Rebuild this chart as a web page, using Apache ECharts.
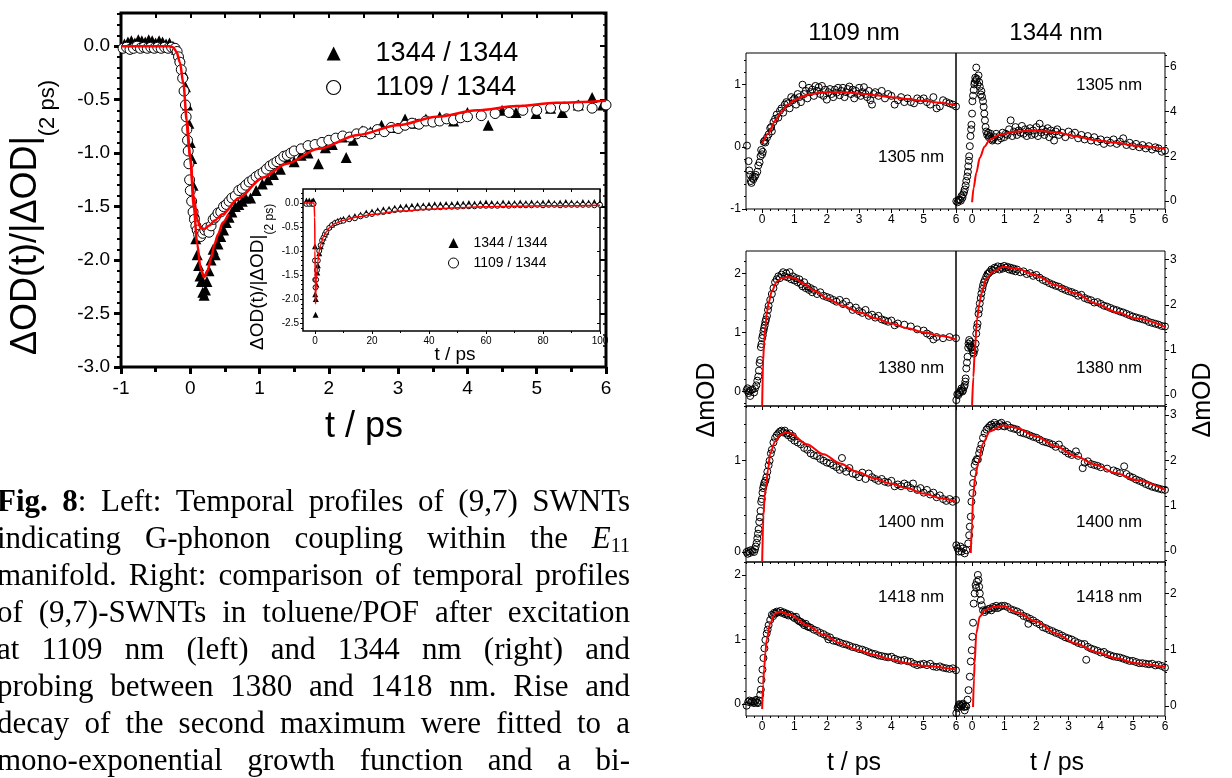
<!DOCTYPE html>
<html><head><meta charset="utf-8">
<script src="https://cdn.jsdelivr.net/npm/echarts@6/dist/echarts.min.js"></script>
<style>html,body{margin:0;padding:0;background:#fff}#c{width:1232px;height:778px}</style>
</head><body><div id="c"></div>
<script>
// ---------------- DATA ----------------
const mainXTicks = [-1,0,1,2,3,4,5,6];
const mainYTicks = [-3,-2.5,-2,-1.5,-1,-0.5,0];
const insetXTicks = [0,20,40,60,80,100];
const insetYTicks = [-2.5,-2,-1.5,-1,-0.5,0];
const panelXTicks = [0,1,2,3,4,5,6];
const legendNames = ['1344 / 1344','1109 / 1344'];
const pumpTitles = ['1109 nm','1344 nm'];
const probeLabels = ['1305 nm','1380 nm','1400 nm','1418 nm'];

const mainTriangles = [[-0.95,0.02],[-0.9,0.04],[-0.85,0.05],[-0.8,0.03],[-0.75,0.06],[-0.7,0.05],[-0.65,0.04],[-0.6,0.06],[-0.55,0.05],[-0.5,0.03],[-0.45,0.05],[-0.4,0.04],[-0.35,0.02],[-0.3,0.03],[-0.25,0.0],[-0.2,-0.03],[-0.15,-0.1],[-0.1,-0.25],[-0.07,-0.38],[-0.04,-0.55],[-0.02,-0.72],[0.0,-0.9],[0.02,-1.05],[0.04,-1.3],[0.06,-1.55],[0.08,-1.8],[0.1,-1.95],[0.12,-2.05],[0.14,-2.15],[0.16,-2.2],[0.18,-2.3],[0.2,-2.33],[0.22,-2.28],[0.24,-2.2],[0.27,-2.1],[0.3,-2.0],[0.33,-1.9],[0.36,-1.95],[0.4,-1.85],[0.44,-1.78],[0.48,-1.72],[0.52,-1.65],[0.56,-1.6],[0.6,-1.55],[0.65,-1.5],[0.7,-1.48],[0.75,-1.45],[0.8,-1.42],[0.87,-1.42],[0.95,-1.35],[1.04,-1.29],[1.12,-1.25],[1.2,-1.2],[1.3,-1.15],[1.39,-1.04],[1.5,-1.08],[1.6,-1.02],[1.7,-1.0],[1.85,-1.1],[1.95,-0.95],[2.05,-0.92],[2.19,-0.85],[2.25,-1.04],[2.35,-0.88],[2.48,-0.79],[2.6,-0.8],[2.76,-0.74],[2.9,-0.76],[3.1,-0.68],[3.25,-0.72],[3.4,-0.68],[3.6,-0.66],[3.8,-0.7],[4.0,-0.62],[4.3,-0.74],[4.5,-0.6],[4.7,-0.62],[4.99,-0.63],[5.2,-0.58],[5.37,-0.62],[5.6,-0.55],[5.8,-0.48],[5.95,-0.55]];
const mainCircles = [[-0.97,-0.02],[-0.92,-0.01],[-0.87,-0.03],[-0.82,-0.02],[-0.77,0.0],[-0.72,-0.02],[-0.67,-0.01],[-0.62,-0.02],[-0.57,-0.01],[-0.52,-0.02],[-0.47,-0.01],[-0.42,-0.02],[-0.37,-0.01],[-0.32,-0.02],[-0.27,-0.01],[-0.22,-0.02],[-0.19,-0.05],[-0.17,-0.1],[-0.15,-0.15],[-0.13,-0.22],[-0.11,-0.3],[-0.09,-0.42],[-0.07,-0.55],[-0.06,-0.66],[-0.05,-0.78],[-0.04,-0.88],[-0.03,-0.98],[-0.02,-1.1],[-0.01,-1.25],[0.0,-1.35],[0.02,-1.45],[0.04,-1.55],[0.06,-1.62],[0.08,-1.68],[0.1,-1.72],[0.12,-1.76],[0.15,-1.78],[0.18,-1.75],[0.21,-1.72],[0.24,-1.7],[0.27,-1.74],[0.3,-1.68],[0.33,-1.62],[0.36,-1.6],[0.4,-1.56],[0.44,-1.55],[0.48,-1.5],[0.52,-1.48],[0.56,-1.45],[0.6,-1.42],[0.65,-1.4],[0.7,-1.35],[0.75,-1.33],[0.8,-1.3],[0.85,-1.27],[0.9,-1.25],[0.95,-1.22],[1.0,-1.2],[1.05,-1.18],[1.1,-1.15],[1.15,-1.12],[1.2,-1.1],[1.25,-1.08],[1.3,-1.06],[1.35,-1.03],[1.4,-1.02],[1.45,-1.0],[1.5,-0.98],[1.6,-0.96],[1.7,-0.93],[1.8,-0.92],[1.9,-0.9],[2.0,-0.88],[2.1,-0.86],[2.2,-0.84],[2.3,-0.85],[2.4,-0.82],[2.5,-0.8],[2.6,-0.82],[2.7,-0.78],[2.8,-0.8],[2.9,-0.76],[3.0,-0.77],[3.1,-0.74],[3.2,-0.72],[3.3,-0.73],[3.4,-0.7],[3.5,-0.71],[3.6,-0.7],[3.7,-0.68],[3.8,-0.69],[3.9,-0.67],[4.0,-0.66],[4.2,-0.65],[4.4,-0.63],[4.6,-0.62],[4.8,-0.6],[5.0,-0.6],[5.2,-0.58],[5.4,-0.57],[5.6,-0.56],[5.8,-0.58],[6.0,-0.55]];
const mainFitCircles = [[-1,0],[-0.3,0],[-0.25,-0.01],[-0.2,-0.05],[-0.15,-0.15],[-0.1,-0.35],[-0.05,-0.7],[0.0,-1.05],[0.05,-1.4],[0.1,-1.62],[0.15,-1.7],[0.2,-1.71],[0.27,-1.68],[0.35,-1.63],[0.47,-1.57],[0.7,-1.42],[1.04,-1.23],[1.39,-1.1],[1.85,-0.96],[2.42,-0.83],[2.99,-0.74],[3.56,-0.66],[4.14,-0.6],[4.71,-0.56],[5.28,-0.53],[6.0,-0.51]];
const mainFitTriangles = [[-0.05,-0.7],[0.0,-1.05],[0.05,-1.5],[0.1,-1.85],[0.15,-2.08],[0.2,-2.16],[0.25,-2.1],[0.3,-1.98],[0.35,-1.85],[0.4,-1.76],[0.47,-1.65],[0.55,-1.57]];

const insetTriangles = [[-3,0.05],[-2,0.05],[-1,0.04],[-0.5,0.05],[0,-0.9],[0.1,-1.9],[0.2,-2.33],[0.3,-2.0],[0.5,-1.7],[0.8,-1.45],[1,-1.3],[1.5,-1.05],[2,-0.9],[2.5,-0.8],[3,-0.72],[3.5,-0.66],[4,-0.6],[5,-0.5],[6,-0.45],[7,-0.4],[8,-0.37],[9,-0.35],[10,-0.33],[12,-0.3],[14,-0.27],[16,-0.24],[18,-0.2],[20,-0.18],[22,-0.15],[24,-0.13],[26,-0.12],[28,-0.1],[30,-0.08],[32,-0.07],[34,-0.06],[36,-0.05],[38,-0.05],[40,-0.04],[42,-0.03],[44,-0.03],[46,-0.02],[48,-0.02],[50,-0.01],[52,-0.01],[54,0.0],[56,-0.01],[58,0.0],[60,0.01],[62,0.0],[64,-0.01],[66,0.01],[68,0.0],[70,0.0],[72,0.01],[74,0.0],[76,0.01],[78,0.0],[80,0.01],[82,0.02],[84,0.0],[86,0.01],[88,0.02],[90,0.01],[92,0.0],[94,0.02],[96,0.01],[98,0.02],[100,0.01]];
const insetCircles = [[-3,-0.02],[-2,-0.02],[-1,-0.02],[-0.5,-0.02],[0,-1.2],[0.1,-1.6],[0.2,-1.76],[0.4,-1.6],[0.7,-1.4],[1,-1.2],[1.5,-1.0],[2,-0.88],[2.5,-0.78],[3,-0.72],[3.5,-0.65],[4,-0.6],[5,-0.52],[6,-0.46],[7,-0.42],[8,-0.4],[9,-0.38],[10,-0.37],[12,-0.34],[14,-0.32],[16,-0.28],[18,-0.25],[20,-0.23],[22,-0.2],[24,-0.19],[26,-0.17],[28,-0.15],[30,-0.14],[32,-0.13],[34,-0.12],[36,-0.11],[38,-0.1],[40,-0.1],[42,-0.09],[44,-0.09],[46,-0.08],[48,-0.08],[50,-0.08],[52,-0.07],[54,-0.07],[56,-0.07],[58,-0.06],[60,-0.06],[62,-0.06],[64,-0.06],[66,-0.05],[68,-0.06],[70,-0.05],[72,-0.05],[74,-0.05],[76,-0.05],[78,-0.04],[80,-0.05],[82,-0.04],[84,-0.04],[86,-0.05],[88,-0.04],[90,-0.04],[92,-0.04],[94,-0.04],[96,-0.04],[98,-0.05],[100,-0.04]];
const insetFit = [[-4,0],[-0.3,0],[-0.1,-0.3],[0,-1.0],[0.1,-1.7],[0.2,-2.1],[0.3,-1.9],[0.5,-1.6],[1,-1.22],[1.5,-1.0],[2,-0.87],[3,-0.7],[4,-0.6],[5,-0.52],[7,-0.43],[10,-0.36],[15,-0.29],[20,-0.24],[30,-0.17],[40,-0.13],[50,-0.1],[60,-0.08],[70,-0.07],[80,-0.06],[90,-0.06],[100,-0.05]];

// right panels: pump 1109 (left column) / pump 1344 (right column)
const pts1305_1109 = [[-0.47,0.02],[-0.42,-0.23],[-0.4,-0.38],[-0.37,-0.45],[-0.35,-0.55],[-0.33,-0.58],[-0.3,-0.5],[-0.27,-0.52],[-0.23,-0.48],[-0.2,-0.45],[-0.15,-0.4],[-0.12,-0.3],[-0.08,-0.25],[-0.05,-0.15],[-0.03,-0.05],[0,-0.12],[0.02,-0.08],[0.05,0.08],[0.08,0.1],[0.1,0.07],[0.15,0.15],[0.2,0.2],[0.25,0.3],[0.28,0.32],[0.3,0.25],[0.35,0.4],[0.4,0.45],[0.45,0.52],[0.5,0.47],[0.55,0.58],[0.6,0.62],[0.65,0.55],[0.7,0.68],[0.75,0.72],[0.8,0.7],[0.85,0.62],[0.9,0.8],[0.95,0.75],[1.0,0.78],[1.05,0.68],[1.1,0.85],[1.15,0.8],[1.2,0.72],[1.25,1.0],[1.3,0.85],[1.35,0.9],[1.4,0.78],[1.45,0.95],[1.5,0.88],[1.55,0.92],[1.6,0.82],[1.65,0.98],[1.7,0.9],[1.75,0.96],[1.8,0.85],[1.85,0.98],[1.9,0.82],[1.95,0.92],[2.0,0.76],[2.05,0.88],[2.1,0.93],[2.15,0.85],[2.2,0.8],[2.25,0.92],[2.3,0.87],[2.35,0.95],[2.4,0.83],[2.45,0.9],[2.5,0.95],[2.55,0.8],[2.6,0.88],[2.65,0.93],[2.7,0.97],[2.75,0.85],[2.8,0.92],[2.85,0.78],[2.9,0.9],[2.95,0.85],[3.0,0.95],[3.05,0.82],[3.1,0.88],[3.15,0.96],[3.2,0.85],[3.25,0.8],[3.3,0.9],[3.35,0.75],[3.4,0.68],[3.45,0.85],[3.5,0.88],[3.6,0.82],[3.7,0.9],[3.8,0.78],[3.9,0.85],[4.0,0.82],[4.1,0.68],[4.2,0.75],[4.3,0.8],[4.4,0.72],[4.5,0.78],[4.6,0.72],[4.7,0.7],[4.8,0.78],[4.9,0.75],[5.0,0.78],[5.1,0.72],[5.2,0.68],[5.3,0.8],[5.4,0.62],[5.5,0.65],[5.6,0.75],[5.7,0.72],[5.8,0.7],[5.9,0.68],[6.0,0.65]];
const fit1305_1109 = [[0,0.05],[0.2,0.22],[0.4,0.42],[0.6,0.57],[0.8,0.68],[1.0,0.75],[1.25,0.81],[1.5,0.85],[2.0,0.88],[2.5,0.88],[3.0,0.86],[3.5,0.83],[4.0,0.8],[4.5,0.77],[5.0,0.74],[5.5,0.71],[6.0,0.67]];
const pts1305_1344 = [[-0.49,0.0],[-0.45,-0.05],[-0.42,0.05],[-0.38,0.07],[-0.35,0.02],[-0.33,0.22],[-0.3,0.15],[-0.28,0.3],[-0.25,0.4],[-0.23,0.52],[-0.2,0.7],[-0.18,0.9],[-0.15,1.1],[-0.13,1.3],[-0.12,1.55],[-0.1,1.8],[-0.09,2.0],[-0.07,2.45],[-0.05,2.9],[-0.03,3.2],[-0.02,3.4],[0,3.9],[0.01,4.45],[0.03,4.7],[0.05,4.95],[0.07,5.2],[0.08,5.3],[0.1,5.5],[0.12,5.4],[0.13,5.95],[0.15,5.45],[0.17,5.2],[0.2,5.6],[0.22,5.3],[0.24,5.1],[0.27,4.75],[0.29,4.9],[0.31,4.65],[0.34,4.45],[0.36,4.2],[0.38,3.9],[0.4,3.6],[0.42,3.3],[0.44,3.1],[0.47,2.95],[0.5,3.05],[0.52,2.85],[0.55,2.9],[0.58,3.0],[0.6,2.8],[0.63,2.7],[0.65,2.75],[0.7,2.85],[0.75,3.0],[0.8,2.7],[0.85,2.9],[0.9,2.8],[0.95,3.05],[1.0,2.85],[1.05,3.0],[1.1,2.95],[1.15,3.2],[1.2,3.6],[1.25,2.9],[1.3,3.1],[1.35,3.3],[1.4,2.95],[1.45,3.15],[1.5,3.05],[1.55,3.35],[1.6,3.0],[1.65,3.2],[1.7,2.9],[1.75,3.1],[1.8,3.25],[1.85,2.95],[1.9,3.15],[1.95,3.0],[2.0,3.3],[2.05,2.9],[2.1,3.45],[2.15,3.05],[2.2,3.2],[2.25,2.95],[2.3,3.1],[2.35,3.25],[2.4,2.85],[2.45,3.15],[2.5,3.0],[2.55,2.7],[2.6,3.1],[2.65,3.2],[2.7,2.95],[2.8,3.05],[2.9,2.85],[3.0,3.1],[3.1,2.95],[3.2,3.05],[3.3,2.8],[3.4,2.95],[3.5,2.75],[3.6,2.9],[3.7,2.7],[3.8,2.85],[3.9,2.65],[4.0,2.75],[4.1,2.55],[4.2,2.7],[4.3,2.6],[4.4,2.75],[4.5,2.55],[4.6,2.65],[4.7,2.8],[4.8,2.5],[4.9,2.6],[5.0,2.45],[5.1,2.55],[5.2,2.4],[5.3,2.5],[5.4,2.35],[5.5,2.45],[5.6,2.3],[5.7,2.4],[5.8,2.35],[5.9,2.2],[6.0,2.25]];
const fit1305_1344 = [[0,-0.05],[0.05,0.6],[0.13,1.25],[0.24,1.93],[0.39,2.44],[0.55,2.74],[0.86,2.96],[1.37,3.1],[2.0,3.14],[2.61,3.07],[3.23,2.89],[3.85,2.71],[4.47,2.6],[5.09,2.47],[6.0,2.34]];
const pts1380_1109 = [[-0.48,0.02],[-0.45,0.05],[-0.42,-0.03],[-0.4,0.0],[-0.37,-0.08],[-0.35,0.02],[-0.3,0.03],[-0.25,-0.02],[-0.22,0.05],[-0.18,0.1],[-0.15,0.18],[-0.12,0.25],[-0.1,0.35],[-0.08,0.48],[-0.06,0.53],[-0.04,0.75],[-0.02,0.8],[0.0,0.9],[0.02,0.95],[0.04,1.02],[0.06,1.07],[0.08,1.12],[0.1,1.18],[0.12,1.22],[0.15,1.28],[0.18,1.38],[0.2,1.45],[0.25,1.55],[0.3,1.65],[0.35,1.75],[0.4,1.85],[0.45,1.9],[0.5,1.95],[0.55,1.92],[0.6,1.98],[0.65,2.02],[0.7,1.95],[0.75,2.0],[0.8,1.93],[0.85,2.02],[0.9,1.9],[0.95,1.95],[1.0,1.88],[1.05,1.92],[1.1,1.85],[1.15,1.9],[1.2,1.82],[1.25,1.78],[1.3,1.85],[1.35,1.75],[1.4,1.78],[1.45,1.72],[1.5,1.75],[1.55,1.68],[1.6,1.72],[1.7,1.65],[1.8,1.68],[1.9,1.62],[2.0,1.6],[2.1,1.58],[2.2,1.55],[2.3,1.52],[2.4,1.55],[2.5,1.48],[2.6,1.52],[2.7,1.45],[2.8,1.38],[2.9,1.42],[3.0,1.36],[3.1,1.33],[3.2,1.38],[3.3,1.28],[3.4,1.3],[3.5,1.25],[3.6,1.28],[3.7,1.22],[3.8,1.2],[3.9,1.18],[4.0,1.2],[4.1,1.12],[4.2,1.15],[4.4,1.13],[4.6,1.1],[4.8,1.05],[5.0,1.03],[5.1,0.98],[5.2,0.95],[5.3,0.88],[5.4,0.92],[5.6,0.9],[5.8,0.92],[6.0,0.9]];
const fit1380_1109 = [[0,-0.26],[0.03,0.5],[0.06,0.85],[0.1,1.1],[0.15,1.35],[0.2,1.5],[0.3,1.7],[0.45,1.86],[0.6,1.92],[0.8,1.94],[1.0,1.92],[1.3,1.82],[1.6,1.71],[2.0,1.58],[2.5,1.45],[3.0,1.34],[3.5,1.24],[4.0,1.15],[4.5,1.07],[5.0,1.0],[5.5,0.94],[6.0,0.88]];
const pts1380_1344 = [[-0.49,-0.11],[-0.46,0.02],[-0.43,0.0],[-0.4,0.05],[-0.38,0.07],[-0.35,0.1],[-0.33,0.15],[-0.3,0.08],[-0.28,0.11],[-0.25,0.18],[-0.23,0.22],[-0.21,0.3],[-0.2,0.37],[-0.18,0.59],[-0.16,0.72],[-0.14,0.85],[-0.12,1.05],[-0.11,1.14],[-0.09,1.22],[-0.07,1.1],[-0.05,1.18],[-0.03,1.05],[-0.02,1.07],[0.01,1.0],[0.03,0.95],[0.05,0.92],[0.08,1.0],[0.11,1.14],[0.13,1.36],[0.15,1.5],[0.17,1.58],[0.2,1.8],[0.22,1.9],[0.24,2.03],[0.27,2.15],[0.29,2.25],[0.32,2.35],[0.34,2.43],[0.37,2.5],[0.4,2.55],[0.44,2.62],[0.48,2.68],[0.52,2.7],[0.55,2.73],[0.6,2.78],[0.65,2.76],[0.7,2.82],[0.75,2.8],[0.8,2.85],[0.85,2.78],[0.9,2.84],[0.95,2.8],[1.0,2.86],[1.05,2.82],[1.1,2.84],[1.15,2.78],[1.2,2.82],[1.25,2.76],[1.3,2.8],[1.35,2.74],[1.4,2.78],[1.5,2.72],[1.6,2.74],[1.7,2.68],[1.8,2.7],[1.9,2.64],[2.0,2.66],[2.1,2.6],[2.2,2.55],[2.3,2.52],[2.4,2.48],[2.5,2.45],[2.6,2.42],[2.7,2.4],[2.8,2.36],[2.9,2.33],[3.0,2.3],[3.1,2.28],[3.2,2.25],[3.3,2.2],[3.4,2.22],[3.5,2.15],[3.6,2.12],[3.7,2.1],[3.8,2.05],[3.9,2.06],[4.0,2.02],[4.1,1.98],[4.2,1.96],[4.3,1.93],[4.4,1.9],[4.5,1.88],[4.6,1.85],[4.7,1.83],[4.8,1.8],[4.9,1.77],[5.0,1.74],[5.1,1.72],[5.2,1.7],[5.3,1.68],[5.4,1.66],[5.5,1.62],[5.6,1.6],[5.7,1.58],[5.8,1.56],[5.9,1.53],[6.0,1.52]];
const fit1380_1344 = [[0,-0.24],[0.04,0.4],[0.08,0.92],[0.15,1.66],[0.22,2.0],[0.29,2.25],[0.44,2.58],[0.65,2.73],[0.96,2.84],[1.37,2.8],[2.0,2.65],[2.61,2.43],[3.23,2.25],[3.85,2.03],[4.47,1.84],[5.09,1.7],[6.0,1.51]];
const pts1400_1109 = [[-0.48,0.0],[-0.45,-0.02],[-0.42,0.01],[-0.38,-0.01],[-0.35,0.02],[-0.3,0.01],[-0.25,0.0],[-0.22,0.03],[-0.2,0.06],[-0.17,0.1],[-0.15,0.15],[-0.13,0.2],[-0.11,0.25],[-0.09,0.33],[-0.07,0.38],[-0.05,0.45],[-0.03,0.55],[-0.01,0.58],[0.01,0.65],[0.03,0.7],[0.05,0.73],[0.07,0.76],[0.1,0.78],[0.13,0.82],[0.16,0.88],[0.2,0.95],[0.23,1.0],[0.27,1.08],[0.3,1.12],[0.35,1.2],[0.4,1.25],[0.45,1.28],[0.5,1.3],[0.55,1.32],[0.6,1.33],[0.65,1.31],[0.7,1.33],[0.75,1.3],[0.8,1.28],[0.85,1.3],[0.9,1.25],[0.95,1.27],[1.0,1.22],[1.1,1.2],[1.2,1.18],[1.3,1.14],[1.4,1.12],[1.5,1.08],[1.6,1.06],[1.7,1.05],[1.8,1.02],[1.9,1.0],[2.0,0.98],[2.1,0.97],[2.2,0.95],[2.3,0.93],[2.4,0.9],[2.47,1.03],[2.5,0.92],[2.6,0.88],[2.7,0.92],[2.8,0.86],[2.9,0.85],[3.0,0.82],[3.1,0.87],[3.2,0.8],[3.3,0.86],[3.4,0.82],[3.5,0.8],[3.6,0.78],[3.7,0.8],[3.8,0.77],[3.9,0.76],[4.0,0.78],[4.1,0.72],[4.2,0.74],[4.3,0.72],[4.4,0.75],[4.5,0.73],[4.6,0.7],[4.67,0.75],[4.8,0.68],[4.9,0.7],[5.0,0.65],[5.1,0.68],[5.2,0.63],[5.3,0.65],[5.4,0.6],[5.5,0.62],[5.6,0.58],[5.7,0.56],[5.8,0.58],[5.9,0.55],[6.0,0.57]];
const fit1400_1109 = [[0,-0.11],[0.04,0.4],[0.08,0.62],[0.12,0.72],[0.18,0.9],[0.25,1.08],[0.4,1.21],[0.55,1.28],[0.71,1.31],[0.87,1.3],[1.38,1.18],[1.9,1.07],[2.42,0.97],[2.93,0.88],[3.45,0.81],[3.97,0.75],[4.48,0.7],[5.0,0.64],[5.52,0.59],[6.0,0.55]];
const pts1400_1344 = [[-0.49,0.13],[-0.45,0.06],[-0.41,-0.01],[-0.36,0.1],[-0.33,-0.01],[-0.28,0.06],[-0.23,-0.05],[-0.18,0.02],[-0.12,0.17],[-0.09,0.35],[-0.07,0.54],[-0.04,0.76],[-0.02,1.09],[0.01,1.28],[0.03,1.5],[0.05,1.72],[0.08,1.9],[0.11,1.98],[0.15,2.03],[0.18,2.02],[0.22,2.16],[0.25,2.25],[0.29,2.35],[0.34,2.5],[0.39,2.6],[0.45,2.68],[0.5,2.72],[0.55,2.76],[0.6,2.79],[0.65,2.74],[0.7,2.83],[0.75,2.78],[0.81,2.75],[0.86,2.8],[0.91,2.83],[0.96,2.76],[1.01,2.75],[1.1,2.78],[1.2,2.72],[1.3,2.7],[1.4,2.68],[1.5,2.62],[1.6,2.6],[1.7,2.58],[1.8,2.55],[1.9,2.52],[2.0,2.5],[2.1,2.46],[2.2,2.42],[2.3,2.4],[2.4,2.38],[2.5,2.35],[2.6,2.3],[2.7,2.35],[2.8,2.25],[2.9,2.2],[3.0,2.15],[3.1,2.12],[3.23,2.2],[3.3,2.1],[3.44,1.83],[3.5,1.95],[3.6,1.98],[3.7,1.92],[3.8,1.9],[3.9,1.88],[4.0,1.85],[4.2,1.82],[4.4,1.78],[4.5,1.75],[4.6,1.72],[4.73,1.87],[4.8,1.7],[4.9,1.65],[5.0,1.62],[5.1,1.58],[5.2,1.55],[5.3,1.52],[5.4,1.48],[5.5,1.45],[5.6,1.42],[5.7,1.4],[5.8,1.38],[5.9,1.36],[6.0,1.35]];
const fit1400_1344 = [[-0.04,-0.04],[0.0,0.6],[0.03,1.2],[0.1,1.65],[0.19,1.94],[0.34,2.38],[0.55,2.64],[0.96,2.77],[1.37,2.72],[2.0,2.53],[2.61,2.31],[3.23,2.09],[3.85,1.9],[4.47,1.72],[5.09,1.57],[6.0,1.35]];
const pts1418_1109 = [[-0.48,-0.03],[-0.43,0.03],[-0.39,0.05],[-0.35,0.02],[-0.32,0.04],[-0.28,0.03],[-0.25,0.01],[-0.22,0.04],[-0.19,0.06],[-0.16,0.02],[-0.13,0.01],[-0.09,0.05],[-0.06,0.14],[-0.04,0.22],[-0.02,0.37],[0.01,0.53],[0.04,0.71],[0.07,0.86],[0.1,0.99],[0.14,1.09],[0.17,1.15],[0.2,1.22],[0.25,1.3],[0.3,1.38],[0.34,1.36],[0.37,1.41],[0.41,1.4],[0.45,1.43],[0.5,1.42],[0.56,1.44],[0.61,1.41],[0.66,1.42],[0.71,1.39],[0.76,1.4],[0.81,1.37],[0.87,1.38],[0.95,1.35],[1.0,1.33],[1.05,1.35],[1.1,1.3],[1.15,1.28],[1.2,1.27],[1.25,1.25],[1.3,1.22],[1.35,1.24],[1.4,1.2],[1.45,1.19],[1.5,1.18],[1.6,1.15],[1.7,1.13],[1.8,1.1],[1.9,1.08],[2.0,1.05],[2.05,1.0],[2.1,1.03],[2.2,0.98],[2.3,0.97],[2.4,0.95],[2.5,0.93],[2.6,0.92],[2.7,0.9],[2.8,0.88],[2.9,0.87],[3.0,0.85],[3.1,0.84],[3.2,0.82],[3.3,0.8],[3.4,0.78],[3.5,0.77],[3.6,0.75],[3.7,0.74],[3.8,0.73],[3.9,0.72],[4.0,0.73],[4.1,0.7],[4.2,0.68],[4.3,0.67],[4.4,0.68],[4.5,0.66],[4.6,0.65],[4.7,0.62],[4.8,0.6],[4.9,0.61],[5.0,0.62],[5.1,0.6],[5.2,0.62],[5.3,0.58],[5.4,0.57],[5.5,0.58],[5.6,0.56],[5.7,0.55],[5.8,0.54],[5.9,0.55],[6.0,0.52]];
const fit1418_1109 = [[0,-0.08],[0.03,0.3],[0.06,0.53],[0.1,0.8],[0.14,0.99],[0.25,1.25],[0.4,1.4],[0.56,1.43],[0.87,1.38],[1.38,1.22],[1.9,1.07],[2.42,0.94],[2.93,0.84],[3.45,0.76],[3.97,0.69],[4.48,0.63],[5.0,0.59],[6.0,0.53]];
const pts1418_1344 = [[-0.49,-0.13],[-0.45,-0.04],[-0.43,-0.01],[-0.4,0.03],[-0.38,0.02],[-0.35,0.0],[-0.33,-0.01],[-0.3,0.02],[-0.28,0.04],[-0.25,-0.02],[-0.23,-0.08],[-0.2,0.0],[-0.18,-0.01],[-0.14,0.11],[-0.11,0.28],[-0.07,0.52],[-0.04,0.79],[-0.01,0.99],[0.01,1.23],[0.03,1.48],[0.05,1.82],[0.08,2.0],[0.11,2.15],[0.13,2.1],[0.15,2.21],[0.18,2.33],[0.2,2.24],[0.22,2.12],[0.24,2.0],[0.27,1.88],[0.3,1.79],[0.34,1.7],[0.39,1.67],[0.44,1.7],[0.5,1.72],[0.55,1.73],[0.6,1.7],[0.65,1.76],[0.7,1.74],[0.75,1.78],[0.8,1.74],[0.86,1.76],[0.92,1.78],[1.01,1.78],[1.1,1.76],[1.2,1.72],[1.3,1.7],[1.4,1.68],[1.5,1.65],[1.6,1.6],[1.7,1.58],[1.75,1.46],[1.8,1.55],[1.9,1.52],[2.0,1.48],[2.1,1.45],[2.2,1.4],[2.3,1.38],[2.4,1.35],[2.5,1.33],[2.6,1.3],[2.7,1.28],[2.8,1.25],[2.9,1.22],[3.0,1.2],[3.1,1.18],[3.2,1.15],[3.3,1.12],[3.4,1.1],[3.5,1.1],[3.55,0.82],[3.6,1.05],[3.7,1.02],[3.8,1.0],[3.9,0.98],[4.0,0.95],[4.1,0.96],[4.2,0.92],[4.3,0.9],[4.4,0.88],[4.5,0.87],[4.6,0.86],[4.7,0.84],[4.8,0.82],[4.9,0.8],[5.0,0.8],[5.1,0.78],[5.2,0.76],[5.3,0.76],[5.4,0.75],[5.5,0.74],[5.6,0.75],[5.7,0.72],[5.8,0.73],[5.9,0.71],[6.0,0.68]];
const fit1418_1344 = [[0.03,-0.02],[0.06,0.5],[0.08,0.76],[0.13,1.29],[0.24,1.59],[0.39,1.7],[0.65,1.76],[0.96,1.78],[1.37,1.67],[2.0,1.5],[2.61,1.29],[3.23,1.11],[3.85,0.96],[4.47,0.85],[5.09,0.76],[6.0,0.69]];

const captionLines = [
  "{b|Fig.} {b|8}: Left: Temporal profiles of (9,7) SWNTs",
  "indicating G-phonon coupling within the {i|E}{s|11}",
  "manifold. Right: comparison of temporal profiles",
  "of (9,7)-SWNTs in toluene/POF after excitation",
  "at 1109 nm (left) and 1344 nm (right) and",
  "probing between 1380 and 1418 nm. Rise and",
  "decay of the second maximum were fitted to a",
  "mono-exponential growth function and a bi-"
];

// ---------------- BUILD ----------------
const SANS = "'Liberation Sans', Arial, Helvetica, sans-serif";
const SERIF = "'Liberation Serif', 'Times New Roman', serif";
const ctx = document.createElement('canvas').getContext('2d');
function mw(t, f) { ctx.font = f; return ctx.measureText(t).width; }
function range(a, b, s) { const r = []; for (let v = a; v <= b + 1e-9; v += s) r.push(Math.round(v * 1000) / 1000); return r; }
function notIn(arr, ex) { return arr.filter(v => !ex.some(e => Math.abs(e - v) < 1e-6)); }

const grids = [], xAxes = [], yAxes = [], series = [], graphics = [];
function addGrid(rect, frame) {
  grids.push(Object.assign({}, rect, frame ? { show: true, borderColor: '#000', borderWidth: frame, backgroundColor: 'rgba(0,0,0,0)' } : { show: false }));
  return grids.length - 1;
}
function vAxis(grid, min, max, position, o) {
  return {
    type: 'value', gridIndex: grid, min: min, max: max, position: position, silent: true,
    axisLine: { show: false, onZero: false }, splitLine: { show: false }, minorTick: { show: false }, minorSplitLine: { show: false },
    axisTick: { show: !!o.ticks, customValues: o.ticks || [], inside: !!o.inside, length: o.len || 4, lineStyle: { color: '#000', width: o.tw || 1 } },
    axisLabel: { show: !!o.labels, customValues: o.labels || [], margin: o.margin == null ? 4 : o.margin, fontSize: o.fs || 12, color: '#000', fontFamily: SANS, formatter: o.fmt || (v => String(v)), showMinLabel: true, showMaxLabel: true, hideOverlap: false }
  };
}
function addX(a) { xAxes.push(a); return xAxes.length - 1; }
function addY(a) { yAxes.push(a); return yAxes.length - 1; }
function scatter(name, xi, yi, data, sym, size, fill, z) {
  series.push({ type: 'scatter', name: name, xAxisIndex: xi, yAxisIndex: yi, data: data, symbol: sym, symbolSize: size, silent: true, z: z,
    itemStyle: { color: fill, borderColor: '#000', borderWidth: sym === 'triangle' ? 0 : 1, opacity: 1 } });
}
function fitLine(name, xi, yi, data, w) {
  series.push({ type: 'line', name: name, xAxisIndex: xi, yAxisIndex: yi, data: data, symbol: 'none', showSymbol: false, silent: true, z: 6,
    smooth: 0.3, smoothMonotone: 'x', lineStyle: { color: '#ff0000', width: w } });
}

// ---- main chart ----
const mRect = { left: 121, top: 13, width: 485, height: 354 };
const gM = addGrid(mRect, 3), gMb = addGrid(mRect, 0);
const MX = [-1, 6], MY = [-3, 0.31];
const xM = addX(vAxis(gM, MX[0], MX[1], 'bottom', { ticks: mainXTicks, labels: mainXTicks, len: 7, tw: 3, fs: 19, margin: 12 }));
addX(vAxis(gM, MX[0], MX[1], 'top', { ticks: range(-1, 6, 0.5), inside: true, len: 5, tw: 2 }));
const yM = addY(vAxis(gM, MY[0], MY[1], 'left', { ticks: mainYTicks, labels: mainYTicks, len: 7, tw: 3, fs: 19, margin: 11, fmt: v => v.toFixed(1) }));
addY(vAxis(gM, MY[0], MY[1], 'right', { ticks: mainYTicks, inside: true, len: 6, tw: 2 }));
addX(vAxis(gMb, MX[0], MX[1], 'bottom', { ticks: notIn(range(-1, 6, 0.5), mainXTicks), len: 5, tw: 3 }));
addY(vAxis(gMb, MY[0], MY[1], 'left', { ticks: notIn(range(-3, 0.3, 0.1), mainYTicks), len: 4, tw: 2 }));
addY(vAxis(gMb, MY[0], MY[1], 'right', { ticks: notIn(range(-3, 0.3, 0.1), mainYTicks), inside: true, len: 3, tw: 1.5 }));
scatter(legendNames[0], xM, yM, mainTriangles, 'triangle', 11, '#000', 3);
scatter(legendNames[1], xM, yM, mainCircles, 'circle', 10, '#fff', 4);
fitLine('fitA', xM, yM, mainFitCircles, 2.5);
fitLine('fitB', xM, yM, mainFitTriangles, 2.5);

// ---- inset ----
const iRect = { left: 303, top: 189, width: 297, height: 142 };
const gI = addGrid(iRect, 1.5), gIb = addGrid(iRect, 0);
const IX = [-4.2, 100], IY = [-2.667, 0.29];
const xI = addX(vAxis(gI, IX[0], IX[1], 'bottom', { ticks: insetXTicks, labels: insetXTicks, len: 3, tw: 1, fs: 10, margin: 5 }));
addX(vAxis(gI, IX[0], IX[1], 'top', { ticks: range(0, 100, 10), inside: true, len: 3, tw: 1 }));
const yI = addY(vAxis(gI, IY[0], IY[1], 'left', { ticks: insetYTicks, labels: insetYTicks, len: 3, tw: 1, fs: 10, margin: 4, fmt: v => v.toFixed(1) }));
addY(vAxis(gI, IY[0], IY[1], 'right', { ticks: insetYTicks, inside: true, len: 3, tw: 1 }));
addX(vAxis(gIb, IX[0], IX[1], 'bottom', { ticks: [10, 30, 50, 70, 90], len: 2, tw: 1 }));
addY(vAxis(gIb, IY[0], IY[1], 'left', { ticks: notIn(range(-2.6, 0.2, 0.1), insetYTicks), len: 2, tw: 1 }));
scatter('inTri', xI, yI, insetTriangles, 'triangle', 6, '#000', 3);
scatter('inCirc', xI, yI, insetCircles, 'circle', 5, '#fff', 4);
fitLine('inFit', xI, yI, insetFit, 1.5);

// ---- right panels ----
const rows = [{ top: 53, h: 156 }, { top: 251, h: 155 }, { top: 406, h: 156 }, { top: 562, h: 154 }];
const cols = [{ left: 746, w: 210 }, { left: 956, w: 209 }];
const panels = [
  { r: 0, c: 0, y: [-1, 1.51], maj: [-1, 0, 1], step: 0.2, pts: pts1305_1109, fit: fit1305_1109 },
  { r: 0, c: 1, y: [-0.35, 6.6], maj: [0, 2, 4, 6], step: 0.5, pts: pts1305_1344, fit: fit1305_1344 },
  { r: 1, c: 0, y: [-0.25, 2.38], maj: [0, 1, 2], step: 0.2, pts: pts1380_1109, fit: fit1380_1109 },
  { r: 1, c: 1, y: [-0.24, 3.19], maj: [0, 1, 2, 3], step: 0.2, pts: pts1380_1344, fit: fit1380_1344 },
  { r: 2, c: 0, y: [-0.11, 1.6], maj: [0, 1], step: 0.2, pts: pts1400_1109, fit: fit1400_1109 },
  { r: 2, c: 1, y: [-0.24, 3.2], maj: [0, 1, 2, 3], step: 0.2, pts: pts1400_1344, fit: fit1400_1344 },
  { r: 3, c: 0, y: [-0.19, 2.2], maj: [0, 1, 2], step: 0.2, pts: pts1418_1109, fit: fit1418_1109 },
  { r: 3, c: 1, y: [-0.18, 2.56], maj: [0, 1, 2], step: 0.2, pts: pts1418_1344, fit: fit1418_1344 }
];
panels.forEach((p, k) => {
  const rect = { left: cols[p.c].left, top: rows[p.r].top, width: cols[p.c].w, height: rows[p.r].h };
  const g = addGrid(rect, 1), gb = addGrid(rect, 0);
  const showX = p.r === 0 || p.r === 3;
  const ypos = p.c === 0 ? 'left' : 'right';
  const xi = addX(vAxis(g, -0.5, 6, 'bottom', { ticks: panelXTicks, labels: showX ? panelXTicks : null, len: 4, tw: 1, fs: 12, margin: 5 }));
  const yi = addY(vAxis(g, p.y[0], p.y[1], ypos, { ticks: p.maj, labels: p.maj, len: 4, tw: 1, fs: 12, margin: 5 }));
  addX(vAxis(gb, -0.5, 6, 'bottom', { ticks: notIn(range(-0.5, 6, 0.25), panelXTicks), len: 2, tw: 1 }));
  const lo = Math.ceil(p.y[0] / p.step) * p.step;
  addY(vAxis(gb, p.y[0], p.y[1], ypos, { ticks: notIn(range(lo, p.y[1], p.step), p.maj), len: 2, tw: 1 }));
  scatter('p' + k, xi, yi, p.pts, 'circle', 7, 'rgba(0,0,0,0)', 3);
  fitLine('f' + k, xi, yi, p.fit, 2);
});

// ---- texts ----
function txt(x, y, t, font, align, vAlign, rot) {
  graphics.push({ type: 'text', x: x, y: y, rotation: rot || 0, silent: true,
    style: { text: t, font: font, fill: '#000', align: align || 'center', verticalAlign: vAlign || 'middle' } });
}
function rotWithSub(cx, bottomY, mainT, subT, fMain, fSub, subOff) {
  const wMain = mw(mainT, fMain);
  graphics.push({ type: 'group', x: cx, y: bottomY, rotation: Math.PI / 2, silent: true, children: [
    { type: 'text', x: 0, y: 0, style: { text: mainT, font: fMain, fill: '#000', align: 'left', verticalAlign: 'middle' } },
    { type: 'text', x: wMain, y: subOff, style: { text: subT, font: fSub, fill: '#000', align: 'left', verticalAlign: 'middle' } }
  ] });
}
rotWithSub(26, 355, 'ΔOD(t)/|ΔOD|', '(2 ps)', '36px ' + SANS, '22px ' + SANS, 22);
txt(364, 427, 't / ps', '36px ' + SANS);
rotWithSub(258, 350, 'ΔOD(t)/|ΔOD|', '(2 ps)', '19px ' + SANS, '12px ' + SANS, 12);
txt(455, 355, 't / ps', '19px ' + SANS);

txt(854, 33, pumpTitles[0], '24px ' + SANS);
txt(1056, 33, pumpTitles[1], '24px ' + SANS);
const probePos = [[157, 85], [368, 368], [522, 522], [597, 597]];
probeLabels.forEach((t, i) => { txt(911, probePos[i][0], t, '17px ' + SANS); txt(1109, probePos[i][1], t, '17px ' + SANS); });
txt(854, 763, 't / ps', '25px ' + SANS);
txt(1057, 763, 't / ps', '25px ' + SANS);
txt(707, 400, 'ΔmOD', '25px ' + SANS, 'center', 'middle', Math.PI / 2);
txt(1203, 400, 'ΔmOD', '25px ' + SANS, 'center', 'middle', Math.PI / 2);

// caption (justified)
const capFonts = { n: '31px ' + SERIF, b: 'bold 31px ' + SERIF, i: 'italic 31px ' + SERIF, s: '20px ' + SERIF };
function parseWord(w) { const segs = []; const re = /\{([a-z])\|([^}]*)\}|([^{]+)/g; let m; while ((m = re.exec(w))) { if (m[1]) segs.push([m[1], m[2]]); else segs.push(['n', m[3]]); } return segs; }
const CAP_LEFT = -3, CAP_RIGHT = 630, CAP_BASE0 = 513, CAP_STEP = 37;
captionLines.forEach((line, li) => {
  const words = line.split(' ').map(parseWord);
  const widths = words.map(ws => ws.reduce((s, seg) => s + mw(seg[1], capFonts[seg[0]]), 0));
  const total = widths.reduce((a, b) => a + b, 0);
  const gap = (CAP_RIGHT - CAP_LEFT - total) / (words.length - 1);
  let x = CAP_LEFT; const yMid = CAP_BASE0 + li * CAP_STEP - 10.5;
  words.forEach((ws, wi) => {
    let xx = x;
    ws.forEach(seg => {
      graphics.push({ type: 'text', x: xx, y: yMid + (seg[0] === 's' ? 7 : 0), silent: true,
        style: { text: seg[1], font: capFonts[seg[0]], fill: '#000', align: 'left', verticalAlign: 'middle' } });
      xx += mw(seg[1], capFonts[seg[0]]);
    });
    x += widths[wi] + gap;
  });
});

const chart = echarts.init(document.getElementById('c'), null, { renderer: 'canvas' });
chart.setOption({
  animation: false,
  backgroundColor: '#fff',
  grid: grids, xAxis: xAxes, yAxis: yAxes, series: series,
  legend: [
    { data: [{ name: legendNames[0], icon: 'triangle', itemStyle: { color: '#000', borderWidth: 0 } }, { name: legendNames[1], icon: 'circle', itemStyle: { color: '#fff', borderColor: '#000', borderWidth: 1.2 } }],
      orient: 'vertical', left: 326, top: 40, padding: 0, itemWidth: 14, itemHeight: 14, itemGap: 7, selectedMode: false,
      textStyle: { fontSize: 27, fontFamily: SANS, color: '#000', padding: [0, 0, 0, 30] } },
    { data: [{ name: legendNames[0], icon: 'triangle', itemStyle: { color: '#000', borderWidth: 0 } }, { name: legendNames[1], icon: 'circle', itemStyle: { color: '#fff', borderColor: '#000', borderWidth: 1 } }],
      orient: 'vertical', left: 448, top: 236, padding: 0, itemWidth: 10, itemHeight: 10, itemGap: 6, selectedMode: false,
      textStyle: { fontSize: 14, fontFamily: SANS, color: '#000', padding: [0, 0, 0, 10] } }
  ],
  graphic: graphics
});
</script></body></html>
